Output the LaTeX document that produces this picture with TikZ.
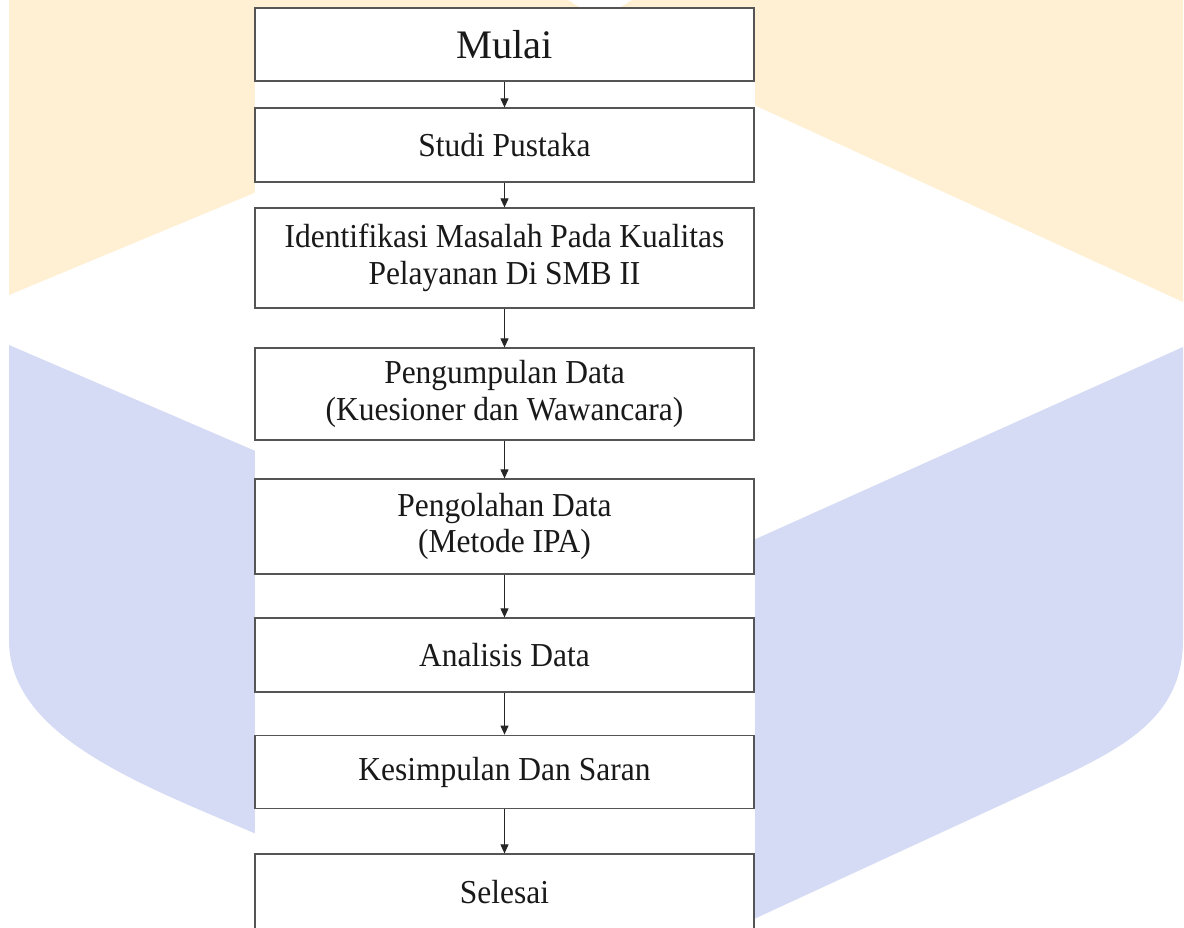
\documentclass[tikz,border=0pt]{standalone}
\usepackage{fontspec}
\setmainfont{Liberation Serif}
\newfontfamily\sempit[FakeStretch=0.94]{Liberation Serif}
\usepackage{tikz}
\usetikzlibrary{arrows.meta}
\definecolor{wmorange}{HTML}{FFF0D4}
\definecolor{wmblue}{HTML}{D5DBF4}
\definecolor{garis}{HTML}{555555}

\tikzset{
  kotak/.style={draw=garis,line width=1.2pt,fill=white,minimum width=499pt,
    minimum height=#1,align=center,inner sep=0pt,text=black!90,
    font=\sempit\fontsize{33.5}{36.5}\selectfont},
  panah/.style={-{Triangle[length=9pt,width=8pt]},line width=0.9pt,black!85}
}

\begin{document}
\begin{tikzpicture}[x=1pt,y=-1pt]
\useasboundingbox (0,0) rectangle (1184,928);
\clip (0,0) rectangle (1184,928);
% watermark
\fill[wmorange] (9,-5)--(560,-5)--(600,20)--(640,-5)--(1183,-5)--(1183,302)--(617,42)--(9,295)--cycle;
\fill[wmblue] (9,345)--(611,604)--(1183,347)--(1183,640)
  .. controls (1183,720) and (1120,750) .. (1040,787)--(611,985)--(200,810)
  .. controls (100,767) and (9,720) .. (9,640)--cycle;
\fill[white] (255,8) rectangle (755,935);
% alur
\node[kotak=73pt,font=\fontsize{40.5}{44}\selectfont] (mulai) at (504.5,44.5) {Mulai};
\node[kotak=74pt] (studi) at (504.5,145) {Studi Pustaka};
\node[kotak=100pt] (identifikasi) at (504.5,258) {Identifikasi Masalah Pada Kualitas\\Pelayanan Di SMB II};
\node[kotak=92pt] (pengumpulan) at (504.5,394) {Pengumpulan Data\\(Kuesioner dan Wawancara)};
\node[kotak=95pt] (pengolahan) at (504.5,526.5) {Pengolahan Data\\(Metode IPA)};
\node[kotak=74pt] (analisis) at (504.5,655) {Analisis Data};
\node[kotak=73.5pt] (kesimpulan) at (504.5,772) {Kesimpulan Dan Saran};
\node[kotak=76pt] (selesai) at (504.5,892) {Selesai};
\foreach \a/\b in {mulai/studi,studi/identifikasi,identifikasi/pengumpulan,
  pengumpulan/pengolahan,pengolahan/analisis,analisis/kesimpulan,kesimpulan/selesai}
  \draw[panah] (\a) -- (\b);
\end{tikzpicture}
\end{document}
